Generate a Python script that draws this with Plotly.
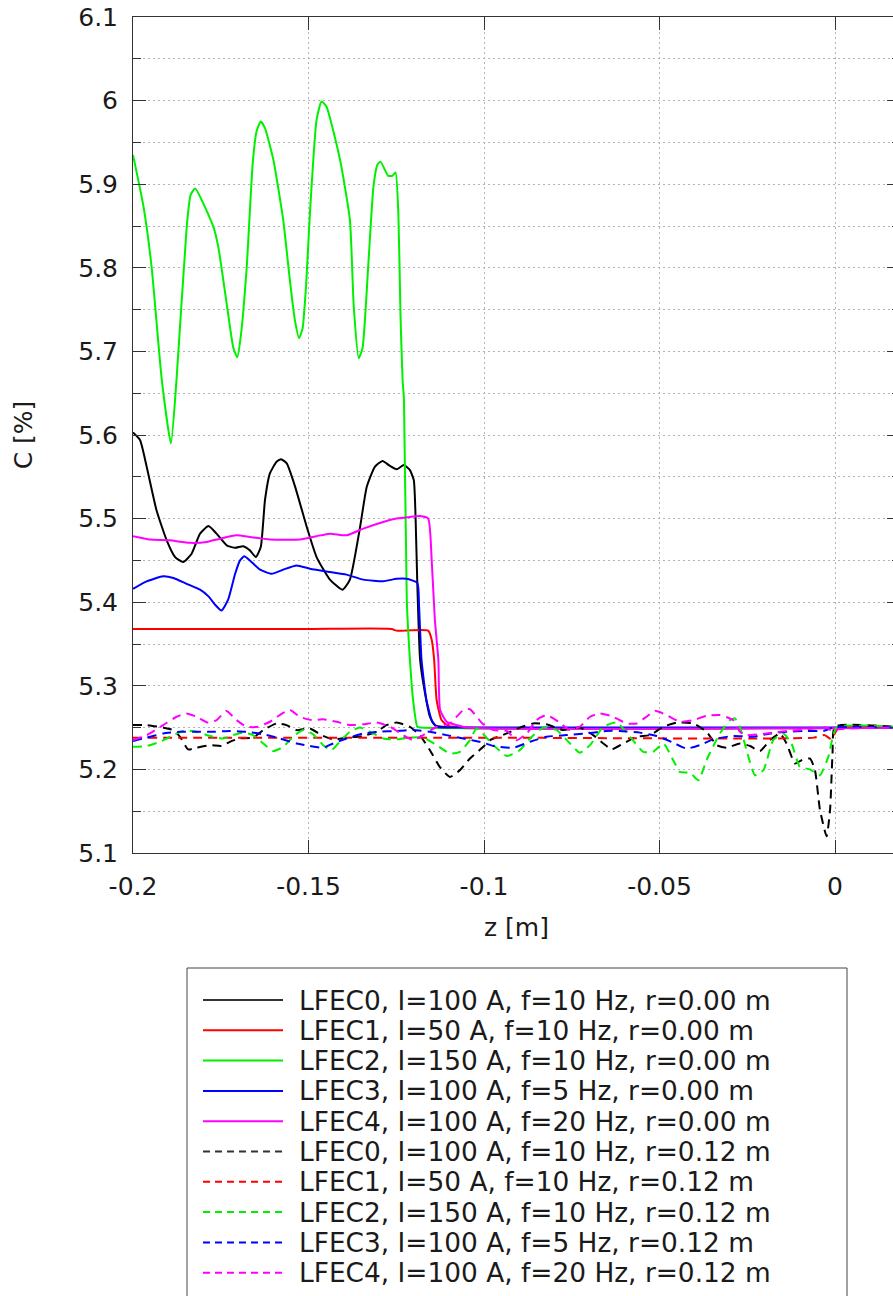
import plotly.graph_objects as go

# ---------------- data ----------------
labels = [
    "LFEC0, I=100 A, f=10 Hz, r=0.00 m",
    "LFEC1, I=50 A, f=10 Hz, r=0.00 m",
    "LFEC2, I=150 A, f=10 Hz, r=0.00 m",
    "LFEC3, I=100 A, f=5 Hz, r=0.00 m",
    "LFEC4, I=100 A, f=20 Hz, r=0.00 m",
    "LFEC0, I=100 A, f=10 Hz, r=0.12 m",
    "LFEC1, I=50 A, f=10 Hz, r=0.12 m",
    "LFEC2, I=150 A, f=10 Hz, r=0.12 m",
    "LFEC3, I=100 A, f=5 Hz, r=0.12 m",
    "LFEC4, I=100 A, f=20 Hz, r=0.12 m",
]

z_c0_r0 = [-0.2, -0.198, -0.1961, -0.1933, -0.1904, -0.188, -0.1857, -0.1833, -0.1809, -0.1785,
           -0.1762, -0.1733, -0.1709, -0.1686, -0.1667, -0.165, -0.1636, -0.1624, -0.161, -0.1591,
           -0.1578, -0.1562, -0.1538, -0.1505, -0.1477, -0.1439, -0.1403, -0.1382, -0.1353, -0.1334,
           -0.1311, -0.1289, -0.1268, -0.1249, -0.1228, -0.1211, -0.12, -0.1195, -0.119, -0.1182,
           -0.1168, -0.1154, -0.114, -0.11, 0.02]
c_c0_r0 = [5.603, 5.594, 5.562, 5.51, 5.474, 5.454, 5.448, 5.458, 5.482, 5.491,
           5.482, 5.468, 5.465, 5.467, 5.462, 5.454, 5.466, 5.522, 5.554, 5.568,
           5.571, 5.566, 5.538, 5.49, 5.454, 5.427, 5.415, 5.427, 5.49, 5.538,
           5.562, 5.569, 5.563, 5.559, 5.564, 5.558, 5.546, 5.502, 5.422, 5.331,
           5.291, 5.263, 5.253, 5.25, 5.25]

z_c1_r0 = [-0.2, -0.15, -0.1263, -0.125, -0.1159, -0.1149, -0.1142, -0.1135, -0.1121, -0.1102, -0.105, 0.02]
c_c1_r0 = [5.368, 5.368, 5.368, 5.366, 5.366, 5.355, 5.331, 5.283, 5.259, 5.252, 5.25, 5.25]

z_c2_r0 = [-0.2, -0.197, -0.1947, -0.1918, -0.1892, -0.1876, -0.1847, -0.1836, -0.1823, -0.1771,
           -0.1757, -0.1729, -0.1714, -0.1703, -0.1693, -0.1676, -0.1659, -0.1648, -0.1636, -0.1624,
           -0.16, -0.1572, -0.1553, -0.1539, -0.1527, -0.1517, -0.1506, -0.1496, -0.1477, -0.1463,
           -0.1449, -0.141, -0.1382, -0.1371, -0.1357, -0.1346, -0.133, -0.1315, -0.1304, -0.1295,
           -0.1273, -0.1261, -0.1252, -0.1244, -0.1238, -0.1232, -0.1228, -0.122, -0.1211, -0.1202,
           -0.119, -0.118, 0.02]
c_c2_r0 = [5.935, 5.873, 5.801, 5.666, 5.59, 5.666, 5.849, 5.887, 5.895, 5.849,
           5.825, 5.745, 5.704, 5.693, 5.718, 5.801, 5.925, 5.963, 5.975, 5.967,
           5.929, 5.857, 5.785, 5.738, 5.716, 5.727, 5.785, 5.865, 5.977, 5.999,
           5.993, 5.929, 5.857, 5.753, 5.692, 5.704, 5.801, 5.897, 5.923, 5.927,
           5.91, 5.91, 5.914, 5.865, 5.745, 5.666, 5.642, 5.403, 5.331, 5.283,
           5.251, 5.25, 5.25]

z_c3_r0 = [-0.2, -0.1961, -0.1914, -0.1885, -0.1847, -0.1809, -0.1785, -0.1766, -0.1748, -0.1729,
           -0.1709, -0.1695, -0.1683, -0.1667, -0.1638, -0.1605, -0.1572, -0.1534, -0.1496, -0.1439,
           -0.1392, -0.1344, -0.1287, -0.1249, -0.1221, -0.119, -0.1185, -0.1178, -0.1164, -0.1149,
           -0.1135, -0.11, 0.02]
c_c3_r0 = [5.416, 5.425, 5.431, 5.429, 5.422, 5.415, 5.407, 5.397, 5.39, 5.403,
           5.434, 5.45, 5.455, 5.45, 5.439, 5.434, 5.439, 5.444, 5.44, 5.436,
           5.433, 5.427, 5.425, 5.428, 5.428, 5.423, 5.395, 5.331, 5.283, 5.259,
           5.251, 5.25, 5.25]

z_c4_r0 = [-0.2, -0.1952, -0.1895, -0.1838, -0.179, -0.1752, -0.1705, -0.1667, -0.161, -0.1524,
           -0.1477, -0.1439, -0.1391, -0.1344, -0.1287, -0.1249, -0.1211, -0.1182, -0.1159, -0.1149,
           -0.114, -0.113, -0.1125, -0.1106, -0.1078, -0.105, 0.02]
c_c4_r0 = [5.479, 5.475, 5.474, 5.471, 5.472, 5.476, 5.48, 5.478, 5.475, 5.475,
           5.479, 5.482, 5.48, 5.488, 5.496, 5.5, 5.502, 5.503, 5.5, 5.45,
           5.379, 5.331, 5.271, 5.257, 5.253, 5.25, 5.25]

z_c0_r12 = [-0.2, -0.1961, -0.1914, -0.1885, -0.1866, -0.1843, -0.1819, -0.1781, -0.1748, -0.1724,
            -0.1696, -0.1658, -0.1629, -0.1591, -0.1563, -0.1534, -0.1496, -0.1463, -0.143, -0.1392,
            -0.1344, -0.1306, -0.1278, -0.1249, -0.1211, -0.1183, -0.1154, -0.1126, -0.1097, -0.1069,
            -0.104, -0.1002, -0.0983, -0.0935, -0.0898, -0.086, -0.0822, -0.0774, -0.0727, -0.0689,
            -0.066, -0.0636, -0.0603, -0.0565, -0.0527, -0.0489, -0.0451, -0.0404, -0.0366, -0.0337,
            -0.0309, -0.0271, -0.0242, -0.0214, -0.0185, -0.0157, -0.0138, -0.0114, -0.0095, -0.0071,
            -0.0057, -0.0043, -0.0024, -0.0014, -0.0007, 0.0, 0.02]
c_c0_r12 = [5.253, 5.253, 5.25, 5.247, 5.239, 5.224, 5.226, 5.229, 5.228, 5.233,
            5.237, 5.238, 5.247, 5.255, 5.253, 5.247, 5.249, 5.241, 5.236, 5.238,
            5.24, 5.245, 5.253, 5.256, 5.251, 5.241, 5.223, 5.203, 5.191, 5.199,
            5.213, 5.227, 5.235, 5.243, 5.25, 5.255, 5.254, 5.247, 5.25, 5.241,
            5.231, 5.224, 5.231, 5.239, 5.241, 5.251, 5.256, 5.255, 5.245, 5.229,
            5.226, 5.231, 5.228, 5.222, 5.235, 5.243, 5.231, 5.207, 5.211, 5.213,
            5.199, 5.152, 5.12, 5.152, 5.219, 5.251, 5.25]

z_c1_r12 = [-0.2, -0.1, -0.006, -0.003, -0.001, 0.001, 0.02]
c_c1_r12 = [5.238, 5.238, 5.238, 5.241, 5.236, 5.25, 5.25]

z_c2_r12 = [-0.2, -0.1961, -0.1923, -0.1885, -0.1857, -0.1819, -0.1781, -0.1743, -0.1715, -0.1686,
            -0.1658, -0.1629, -0.1601, -0.1572, -0.1544, -0.1515, -0.1487, -0.1458, -0.1435, -0.1411,
            -0.1382, -0.1354, -0.1325, -0.1287, -0.1249, -0.1211, -0.1173, -0.1135, -0.1097, -0.1069,
            -0.104, -0.1021, -0.0973, -0.0935, -0.0898, -0.0869, -0.0831, -0.0793, -0.0755, -0.0727,
            -0.0698, -0.066, -0.0622, -0.0584, -0.0546, -0.0518, -0.0489, -0.0461, -0.0442, -0.0413,
            -0.0389, -0.0366, -0.0328, -0.0299, -0.0285, -0.0271, -0.0252, -0.0228, -0.0204, -0.0176,
            -0.0147, -0.0124, -0.01, -0.0071, -0.0043, -0.0019, 0.0005, 0.02]
c_c2_r12 = [5.227, 5.228, 5.233, 5.241, 5.246, 5.245, 5.24, 5.237, 5.241, 5.244,
            5.241, 5.231, 5.222, 5.227, 5.239, 5.247, 5.242, 5.229, 5.223, 5.233,
            5.245, 5.25, 5.245, 5.237, 5.236, 5.238, 5.238, 5.229, 5.219, 5.221,
            5.235, 5.249, 5.229, 5.216, 5.223, 5.237, 5.25, 5.247, 5.231, 5.22,
            5.229, 5.251, 5.256, 5.239, 5.221, 5.221, 5.231, 5.211, 5.197, 5.196,
            5.187, 5.211, 5.243, 5.259, 5.261, 5.251, 5.223, 5.193, 5.199, 5.235,
            5.243, 5.231, 5.203, 5.2, 5.193, 5.215, 5.25, 5.25]

z_c3_r12 = [-0.2, -0.1961, -0.1914, -0.1866, -0.1819, -0.1771, -0.1724, -0.1677, -0.1629, -0.1582,
            -0.1534, -0.1496, -0.1458, -0.143, -0.1392, -0.1344, -0.1297, -0.1249, -0.1202, -0.1154,
            -0.1107, -0.1059, -0.1002, -0.0973, -0.0916, -0.0869, -0.0822, -0.0765, -0.0708, -0.0651,
            -0.0613, -0.0556, -0.0508, -0.0461, -0.0423, -0.0385, -0.0347, -0.029, -0.0233, -0.0185,
            -0.0138, -0.0081, -0.0033, -0.0005, 0.02]
c_c3_r12 = [5.234, 5.238, 5.243, 5.245, 5.245, 5.245, 5.246, 5.245, 5.242, 5.237,
            5.231, 5.228, 5.226, 5.231, 5.237, 5.243, 5.245, 5.246, 5.247, 5.245,
            5.241, 5.237, 5.232, 5.228, 5.226, 5.233, 5.239, 5.241, 5.243, 5.246,
            5.246, 5.244, 5.24, 5.232, 5.225, 5.229, 5.236, 5.24, 5.239, 5.243,
            5.245, 5.246, 5.246, 5.25, 5.25]

z_c4_r12 = [-0.2, -0.1961, -0.1914, -0.1876, -0.1848, -0.1819, -0.1786, -0.1762, -0.1734, -0.1705,
            -0.1677, -0.1644, -0.161, -0.1582, -0.1553, -0.1525, -0.1491, -0.1458, -0.142, -0.1382,
            -0.1344, -0.1306, -0.1268, -0.123, -0.1202, -0.1173, -0.1135, -0.1097, -0.1059, -0.104,
            -0.1005, -0.0973, -0.0935, -0.0907, -0.0878, -0.085, -0.0822, -0.0788, -0.0755, -0.0727,
            -0.0698, -0.067, -0.0632, -0.0594, -0.0565, -0.0537, -0.0513, -0.048, -0.0442, -0.0404,
            -0.0366, -0.0328, -0.029, -0.0271, -0.0252, -0.0214, -0.0176, -0.0138, -0.01, -0.0062,
            -0.0024, -0.0005, 0.0009, 0.02]
c_c4_r12 = [5.235, 5.241, 5.253, 5.263, 5.267, 5.263, 5.256, 5.259, 5.27, 5.259,
            5.251, 5.251, 5.257, 5.265, 5.271, 5.263, 5.259, 5.26, 5.257, 5.253,
            5.254, 5.256, 5.251, 5.241, 5.235, 5.241, 5.251, 5.255, 5.271, 5.272,
            5.255, 5.247, 5.246, 5.235, 5.243, 5.259, 5.265, 5.257, 5.247, 5.251,
            5.263, 5.267, 5.263, 5.255, 5.255, 5.263, 5.27, 5.265, 5.257, 5.259,
            5.264, 5.265, 5.259, 5.245, 5.241, 5.242, 5.244, 5.246, 5.247, 5.249,
            5.25, 5.245, 5.248, 5.25]

series_z = [z_c0_r0, z_c1_r0, z_c2_r0, z_c3_r0, z_c4_r0,
            z_c0_r12, z_c1_r12, z_c2_r12, z_c3_r12, z_c4_r12]
series_c = [c_c0_r0, c_c1_r0, c_c2_r0, c_c3_r0, c_c4_r0,
            c_c0_r12, c_c1_r12, c_c2_r12, c_c3_r12, c_c4_r12]

x_tickvals = [-0.2, -0.15, -0.1, -0.05, 0.0]
x_ticktext = ["-0.2", "-0.15", "-0.1", "-0.05", "0"]
y_tickvals = [5.1, 5.2, 5.3, 5.4, 5.5, 5.6, 5.7, 5.8, 5.9, 6.0, 6.1]
y_ticktext = ["5.1", "5.2", "5.3", "5.4", "5.5", "5.6", "5.7", "5.8", "5.9", "6", "6.1"]
y_minorvals = [5.15, 5.25, 5.35, 5.45, 5.55, 5.65, 5.75, 5.85, 5.95, 6.05]

# ---------------- style ----------------
colors = ["#000000", "#ff0000", "#00f000", "#0000ff", "#ff00ff"] * 2
legend_colors = ["#333333", "#ff0000", "#00f000", "#0000ff", "#ff00ff"] * 2
dashes = ["solid"] * 5 + ["9px,6px"] * 5
legend_dashes = ["solid"] * 5 + ["7px,5px"] * 5

# page body margin is removed (post_script), so figure px == screenshot px
PX_LEFT, PX_TOP, PX_BOTTOM, PX_RIGHT = 133, 17, 853, 900
W, H = PX_RIGHT, 1296
L, T, R = PX_LEFT, PX_TOP, 0
B = H - PX_BOTTOM
PW, PH = PX_RIGHT - PX_LEFT, PX_BOTTOM - PX_TOP
FONT = "DejaVu Sans"
TXT = "#1a1a1a"
GRID = "#b4b4b4"
AX = "#333333"
XSCALE = 3510.0  # px per metre in the reference


def xp(px):
    return (px - PX_LEFT) / PW


def yp(py):
    return (PX_BOTTOM - py) / PH


fig = go.Figure()
for zs, cs, col, d in zip(series_z, series_c, colors, dashes):
    fig.add_trace(go.Scatter(x=zs, y=cs, mode="lines",
                             line=dict(color=col, width=2, dash=d,
                                       shape="spline", smoothing=0.5),
                             showlegend=False, hoverinfo="skip"))

fig.update_layout(
    width=W, height=H,
    margin=dict(l=L, r=R, t=T, b=B, pad=0, autoexpand=False),
    paper_bgcolor="white", plot_bgcolor="white",
    font=dict(family=FONT, size=25, color=TXT),
    xaxis=dict(range=[-0.2, -0.2 + PW / XSCALE], tickmode="array",
               tickvals=x_tickvals, ticktext=x_ticktext, automargin=False,
               ticks="inside", ticklen=13, tickcolor=AX, tickwidth=1,
               showline=True, linecolor=AX, linewidth=1, mirror="ticks",
               showgrid=True, gridcolor=GRID, griddash="2px,3px", gridwidth=1,
               zeroline=False, ticklabelstandoff=11,
               title=dict(text="z [m]", standoff=18, font=dict(size=25))),
    yaxis=dict(range=[5.1, 6.1], tickmode="array",
               tickvals=y_tickvals, ticktext=y_ticktext, automargin=False,
               ticks="inside", ticklen=13, tickcolor=AX, tickwidth=1,
               showline=True, linecolor=AX, linewidth=1, mirror="ticks",
               showgrid=True, gridcolor=GRID, griddash="2px,3px", gridwidth=1,
               zeroline=False, ticklabelstandoff=9, ticklabeloverflow="allow",
               minor=dict(tickmode="array", tickvals=y_minorvals, ticks="inside",
                          ticklen=8, tickcolor=AX, showgrid=True,
                          gridcolor=GRID, griddash="2px,3px", gridwidth=1),
               title=dict(text="C [%]", standoff=38, font=dict(size=25))),
)

# ---------------- custom legend (key box below the plot) ----------------
shapes = [dict(type="rect", xref="paper", yref="paper",
               x0=xp(187), x1=xp(847), y0=yp(1330), y1=yp(968),
               line=dict(color="#444444", width=1), fillcolor="white", layer="above")]
annotations = []
for i, (lab, col, d) in enumerate(zip(labels, legend_colors, legend_dashes)):
    py = 1000 + 30.3 * i
    shapes.append(dict(type="line", xref="paper", yref="paper",
                       x0=xp(203), x1=xp(283), y0=yp(py), y1=yp(py),
                       line=dict(color=col, width=2, dash=d), layer="above"))
    annotations.append(dict(xref="paper", yref="paper", x=xp(297), y=yp(py),
                            xanchor="left", yanchor="middle", showarrow=False,
                            text=lab, font=dict(family=FONT, size=26.4, color=TXT)))
fig.update_layout(shapes=shapes, annotations=annotations)

fig.write_html("out.html",
               config={"displayModeBar": False},
               post_script="document.body.style.margin='0px';"
                           "document.body.style.overflow='hidden';")
